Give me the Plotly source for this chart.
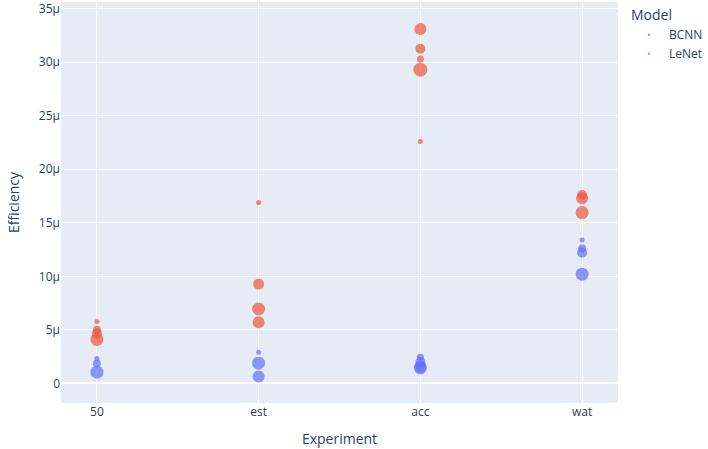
import plotly.graph_objects as go

experiments = ["50", "est", "acc", "wat"]

# BCNN points
bcnn_x = ["50", "50", "50",
          "est", "est", "est",
          "acc", "acc", "acc", "acc",
          "wat", "wat", "wat", "wat"]
bcnn_y = [2.33e-6, 1.86e-6, 1.05e-6,
          2.92e-6, 1.89e-6, 0.65e-6,
          2.45e-6, 2.0e-6, 1.55e-6, 1.45e-6,
          13.4e-6, 12.6e-6, 12.2e-6, 10.2e-6]
bcnn_size = [5, 8, 13,
             5, 13, 12,
             7, 10, 12, 13,
             5, 8, 10, 13]

# LeNet points
lenet_x = ["50", "50", "50", "50",
           "est", "est", "est", "est",
           "acc", "acc", "acc", "acc", "acc",
           "wat", "wat", "wat"]
lenet_y = [5.77e-6, 5.0e-6, 4.65e-6, 4.1e-6,
           16.9e-6, 9.28e-6, 6.95e-6, 5.71e-6,
           33.1e-6, 31.25e-6, 30.3e-6, 29.3e-6, 22.6e-6,
           17.6e-6, 17.3e-6, 15.95e-6]
lenet_size = [5, 8, 10, 13,
              5, 11, 13, 12,
              12, 10, 7, 14, 5,
              10, 12, 13]

models = ["BCNN", "LeNet"]
colors = {"BCNN": "#636EFA", "LeNet": "#EF553B"}

fig = go.Figure()
for name, xs, ys, ss in [("BCNN", bcnn_x, bcnn_y, bcnn_size),
                         ("LeNet", lenet_x, lenet_y, lenet_size)]:
    fig.add_trace(go.Scatter(
        x=xs, y=ys, mode="markers", name=name, legendgroup=name,
        showlegend=False,
        marker=dict(color=colors[name], size=ss, opacity=0.7, line=dict(width=0)),
    ))
    fig.add_trace(go.Scatter(
        x=[None], y=[None], mode="markers", name=name, legendgroup=name,
        showlegend=True,
        marker=dict(color=colors[name], size=2.5, opacity=0.7),
    ))

fig.update_layout(
    template="plotly",
    width=708, height=449,
    margin=dict(l=61, r=89, t=0, b=46),
    legend=dict(title=dict(text="Model"), tracegroupgap=0),
    xaxis=dict(title=dict(text="Experiment"), type="category",
               categoryorder="array", categoryarray=experiments,
               range=[-0.222, 3.222]),
    yaxis=dict(title=dict(text="Efficiency"), range=[-1.83e-6, 35.62e-6],
               dtick=5e-6, ticklabeloverflow="allow"),
)

fig.write_html("out.html", config={"displayModeBar": False},
               post_script="document.body.style.margin='0';")
